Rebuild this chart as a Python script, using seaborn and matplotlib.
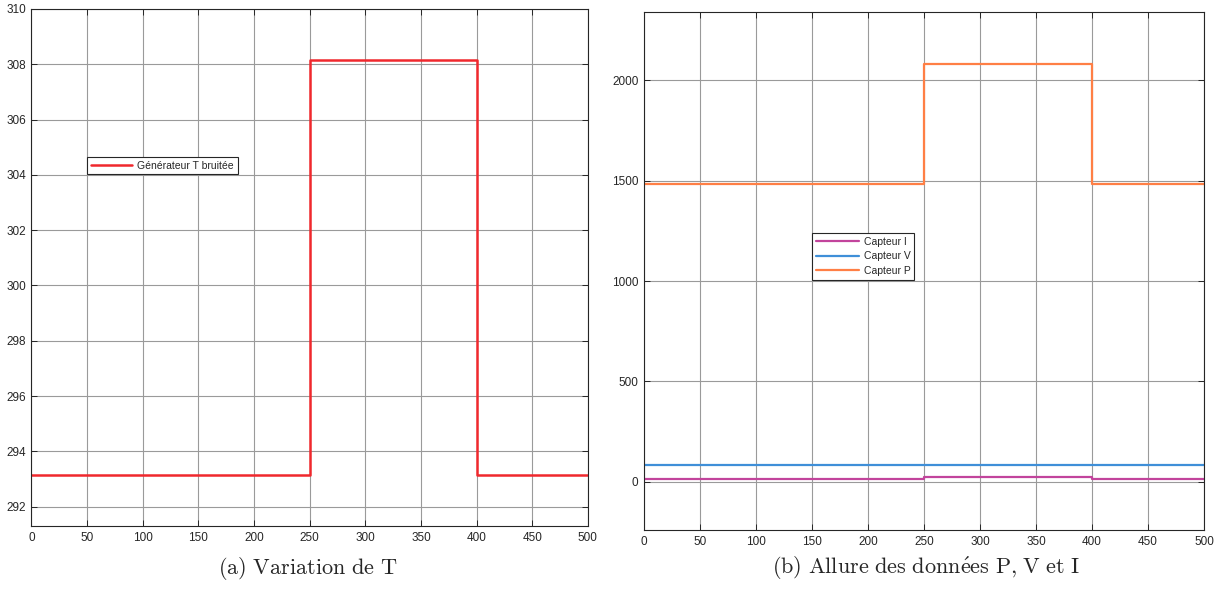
import pandas as pd
import seaborn as sns
import matplotlib.pyplot as plt

# Step breakpoints (time) and levels of each signal
t_breaks = [0, 250, 400, 500]
T_levels = [293.15, 308.15, 293.15, 293.15]
I_levels = [15, 24, 15, 15]
V_levels = [85, 85, 85, 85]
P_levels = [1482, 2080, 1482, 1482]

x_ticks = [0, 50, 100, 150, 200, 250, 300, 350, 400, 450, 500]
T_ticks = [292, 294, 296, 298, 300, 302, 304, 306, 308, 310]
PVI_ticks = [0, 500, 1000, 1500, 2000]

df_T = pd.DataFrame({'t': t_breaks, 'val': T_levels, 'serie': 'Générateur T bruitée'})
df_pvi = pd.concat([
    pd.DataFrame({'t': t_breaks, 'val': I_levels, 'serie': 'Capteur I'}),
    pd.DataFrame({'t': t_breaks, 'val': V_levels, 'serie': 'Capteur V'}),
    pd.DataFrame({'t': t_breaks, 'val': P_levels, 'serie': 'Capteur P'}),
])

sns.set_theme(style='ticks')
plt.rcParams['font.family'] = ['Liberation Sans', 'DejaVu Sans']
plt.rcParams['mathtext.fontset'] = 'cm'

fig = plt.figure(figsize=(12.2, 5.94), dpi=100)
ax1 = fig.add_axes([0.0258, 0.1145, 0.4561, 0.8704])
ax2 = fig.add_axes([0.5279, 0.1077, 0.459, 0.872])


def matlab_axes(ax):
    ax.grid(True, color='#9a9a9a', linewidth=0.8)
    ax.set_axisbelow(True)
    for s in ax.spines.values():
        s.set_color('#262626')
        s.set_linewidth(0.8)
    ax.tick_params(direction='in', length=4, width=0.7, colors='#262626',
                   labelsize=8.5, top=True, right=True, pad=4)
    ax.set_xlabel('')
    ax.set_ylabel('')


# Draw the temperature plot
sns.lineplot(data=df_T, x='t', y='val', hue='serie', palette=['#f0282d'],
             drawstyle='steps-post', linewidth=1.8, ax=ax1)
ax1.set_xlim(0, 500)
ax1.set_ylim(291.3, 310)
ax1.set_xticks(x_ticks)
ax1.set_yticks(T_ticks)
matlab_axes(ax1)
leg1 = ax1.legend(loc='upper left', bbox_to_anchor=(0.0997, 0.7137), fontsize=7.5,
                  frameon=True, fancybox=False, edgecolor='#262626', framealpha=1,
                  handlelength=4.0, handletextpad=0.5, borderpad=0.35, borderaxespad=0)
leg1.get_frame().set_linewidth(0.8)

# Draw the P, V, I plot
sns.lineplot(data=df_pvi, x='t', y='val', hue='serie',
             palette=['#c2449c', '#3f8fd8', '#ff7f45'],
             drawstyle='steps-post', linewidth=1.6, ax=ax2)
ax2.set_xlim(0, 500)
ax2.set_ylim(-240, 2340)
ax2.set_xticks(x_ticks)
ax2.set_yticks(PVI_ticks)
matlab_axes(ax2)
leg2 = ax2.legend(loc='upper left', bbox_to_anchor=(0.3, 0.5734), fontsize=7.5,
                  frameon=True, fancybox=False, edgecolor='#262626', framealpha=1,
                  handlelength=4.2, handletextpad=0.4, borderpad=0.35,
                  labelspacing=0.45, borderaxespad=0)
leg2.get_frame().set_linewidth(0.8)

# Captions
fig.text(0.2525, 0.043, r'$\mathrm{(a)\ Variation\ de\ T}$', ha='center', va='center', fontsize=16)
fig.text(0.759, 0.043, r'$\mathrm{(b)\ Allure\ des\ donn\acute{e}es\ P{,}\ V\ et\ I}$',
         ha='center', va='center', fontsize=16)

fig.savefig('out.png', dpi=100)
